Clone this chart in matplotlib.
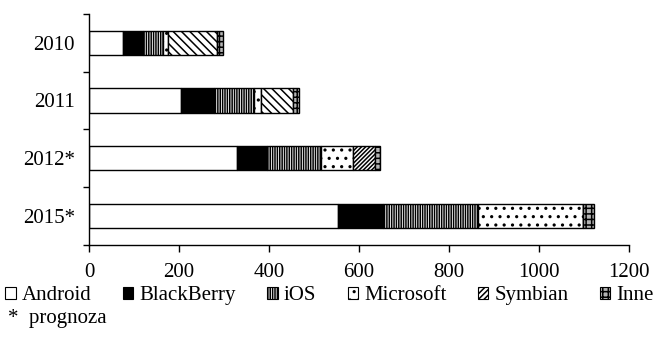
import numpy as np
import matplotlib.pyplot as plt
from matplotlib.patches import Patch

plt.rcParams['font.family'] = ['Liberation Serif', 'DejaVu Serif']
plt.rcParams['hatch.linewidth'] = 1.1

years = ["2010", "2011", "2012*", "2015*"]
series = ["Android", "BlackBerry", "iOS", "Microsoft", "Symbian", "Inne"]

android = [75, 204, 328, 554]
blackberry = [45, 73, 67, 100]
ios = [44, 89, 121, 212]
microsoft = [12, 16, 71, 232]
symbian = [109, 71, 50, 0]
inne = [13, 14, 10, 25]

values = [android, blackberry, ios, microsoft, symbian, inne]
faces = ["white", "black", "white", "white", "white", "#b4b4b4"]
hatches = [None, None, "|||||||", "..", "\\\\\\\\", "+++"]

fig = plt.figure(figsize=(6.53, 3.49), dpi=100)
ax = fig.add_axes([0.1363, 0.2994, 0.8265, 0.6605])

y = np.arange(len(years))
left = np.zeros(len(years))
for name, vals, fc, h in zip(series, values, faces, hatches):
    ax.barh(y, vals, left=left, height=0.42, color=fc, hatch=h,
            edgecolor="black", linewidth=1.0, label=name)
    left += np.array(vals)

# Symbian pattern in 2012 goes the other way
ax.containers[4].patches[2].set_hatch("////////")

ax.set_xlim(0, 1200)
ax.set_ylim(len(years) - 0.5, -0.5)
ax.set_xticks(np.arange(0, 1201, 200))
ax.set_yticks(y)
ax.set_yticklabels(years)
ax.set_yticks(np.arange(-0.5, len(years), 1), minor=True)
ax.tick_params(axis="y", which="major", length=0, labelsize=15, pad=10)
ax.tick_params(axis="y", which="minor", length=4, width=1)
ax.tick_params(axis="x", length=5, width=1, labelsize=15, pad=8)
for s in ["top", "right"]:
    ax.spines[s].set_visible(False)
for s in ["left", "bottom"]:
    ax.spines[s].set_linewidth(1.0)

handles = [Patch(facecolor=fc, edgecolor="black", hatch=h, linewidth=0.8)
           for fc, h in zip(faces, hatches)]
handles[4] = Patch(facecolor="white", edgecolor="black", hatch="//////", linewidth=0.8)
fig.legend(handles, series, loc="center left", bbox_to_anchor=(0.008, 0.152),
           ncol=6, frameon=False, fontsize=15, handlelength=0.5,
           handleheight=0.5, handletextpad=0.3, columnspacing=1.5,
           borderaxespad=0, borderpad=0.0)
fig.text(0.013, 0.088, "*  prognoza", fontsize=15, va="center")

fig.savefig("out.png", dpi=100)
